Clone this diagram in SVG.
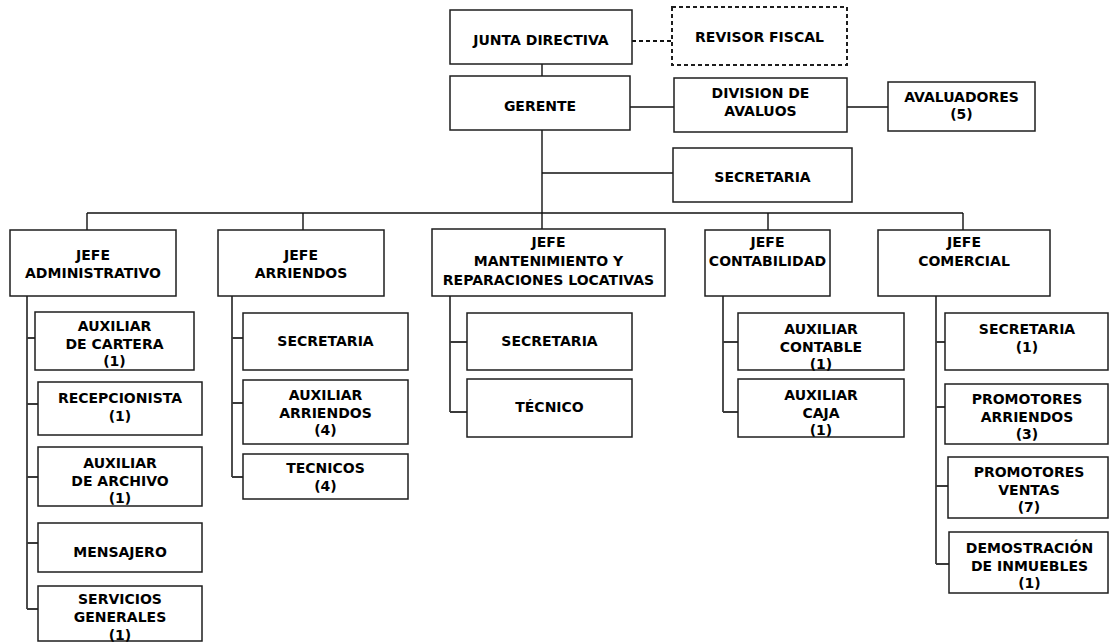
<svg xmlns="http://www.w3.org/2000/svg" width="1109" height="643" viewBox="0 0 1109 643">
  <style>
    .box { fill: #ffffff; stroke: #1e1e1e; stroke-width: 1.5; }
    .dashed { stroke-dasharray: 4 3; stroke-width: 2; }
    .ln { fill: none; stroke: #111111; stroke-width: 1.4; }
    .sub { fill: none; stroke: #3a3a3a; stroke-width: 1.8; }
    .dash { fill: none; stroke: #111111; stroke-width: 2; stroke-dasharray: 4 3; }
    text { font-family: "DejaVu Sans", Verdana, sans-serif; font-weight: bold; font-size: 14px; fill: #000000; text-anchor: middle; }
  </style>

  <!-- connectors -->
  <g id="connectors">
    <path class="dash" d="M632 41 H672"/>
    <path class="ln" d="M542 64 V76"/>
    <path class="ln" d="M630 107 H674"/>
    <path class="ln" d="M847 107 H888"/>
    <path class="ln" d="M542 130 V229"/>
    <path class="ln" d="M542 173 H673"/>
    <path class="ln" d="M87 213 H963"/>
    <path class="ln" d="M87 213 V230"/>
    <path class="ln" d="M303 213 V230"/>
    <path class="ln" d="M768 213 V230"/>
    <path class="ln" d="M963 213 V230"/>
    <!-- administrative branch -->
    <path class="sub" d="M27 296 V609"/>
    <path class="sub" d="M27 338 H35 M27 404 H38 M27 477 H38 M27 543 H38 M27 609 H38"/>
    <!-- leasing branch -->
    <path class="sub" d="M232 296 V477"/>
    <path class="sub" d="M232 338 H243 M232 403 H243 M232 477 H243"/>
    <!-- maintenance branch -->
    <path class="sub" d="M450 296 V412"/>
    <path class="sub" d="M450 342 H467 M450 412 H467"/>
    <!-- accounting branch -->
    <path class="sub" d="M723 296 V412"/>
    <path class="sub" d="M723 342 H738 M723 412 H738"/>
    <!-- commercial branch -->
    <path class="sub" d="M936 296 V564"/>
    <path class="sub" d="M936 342 H945 M936 407 H945 M936 486 H948 M936 564 H949"/>
  </g>

  <g id="junta-directiva">
    <rect class="box" x="450" y="10" width="182" height="54"/>
    <text x="541" y="45">JUNTA DIRECTIVA</text>
  </g>
  <g id="revisor-fiscal">
    <rect class="box dashed" x="672" y="7" width="175" height="58"/>
    <text x="759.5" y="42">REVISOR FISCAL</text>
  </g>
  <g id="gerente">
    <rect class="box" x="450" y="76" width="180" height="54"/>
    <text x="540" y="111">GERENTE</text>
  </g>
  <g id="division-avaluos">
    <rect class="box" x="674" y="78" width="173" height="54"/>
    <text x="760.5" y="98">DIVISION DE</text>
    <text x="760.5" y="116">AVALUOS</text>
  </g>
  <g id="avaluadores">
    <rect class="box" x="888" y="82" width="147" height="49"/>
    <text x="961.5" y="102">AVALUADORES</text>
    <text x="961.5" y="119">(5)</text>
  </g>
  <g id="secretaria-gerencia">
    <rect class="box" x="673" y="148" width="179" height="54"/>
    <text x="762.5" y="182">SECRETARIA</text>
  </g>

  <g id="jefe-administrativo">
    <rect class="box" x="10" y="230" width="166" height="66"/>
    <text x="93" y="260">JEFE</text>
    <text x="93" y="278">ADMINISTRATIVO</text>
  </g>
  <g id="jefe-arriendos">
    <rect class="box" x="218" y="230" width="166" height="66"/>
    <text x="301" y="260">JEFE</text>
    <text x="301" y="278">ARRIENDOS</text>
  </g>
  <g id="jefe-mantenimiento">
    <rect class="box" x="432" y="229" width="233" height="67"/>
    <text x="548.5" y="247">JEFE</text>
    <text x="548.5" y="266">MANTENIMIENTO Y</text>
    <text x="548.5" y="285">REPARACIONES LOCATIVAS</text>
  </g>
  <g id="jefe-contabilidad">
    <rect class="box" x="705" y="230" width="125" height="66"/>
    <text x="767.5" y="247">JEFE</text>
    <text x="767.5" y="266">CONTABILIDAD</text>
  </g>
  <g id="jefe-comercial">
    <rect class="box" x="878" y="230" width="172" height="66"/>
    <text x="964" y="247">JEFE</text>
    <text x="964" y="266">COMERCIAL</text>
  </g>

  <!-- administrative staff -->
  <g id="auxiliar-cartera">
    <rect class="box" x="35" y="312" width="159" height="58"/>
    <text x="114.5" y="331">AUXILIAR</text>
    <text x="114.5" y="349">DE CARTERA</text>
    <text x="114.5" y="366">(1)</text>
  </g>
  <g id="recepcionista">
    <rect class="box" x="38" y="382" width="164" height="53"/>
    <text x="120" y="403">RECEPCIONISTA</text>
    <text x="120" y="421">(1)</text>
  </g>
  <g id="auxiliar-archivo">
    <rect class="box" x="38" y="447" width="164" height="59"/>
    <text x="120" y="468">AUXILIAR</text>
    <text x="120" y="486">DE ARCHIVO</text>
    <text x="120" y="503">(1)</text>
  </g>
  <g id="mensajero">
    <rect class="box" x="38" y="523" width="164" height="49"/>
    <text x="120" y="557">MENSAJERO</text>
  </g>
  <g id="servicios-generales">
    <rect class="box" x="38" y="586" width="164" height="55"/>
    <text x="120" y="604">SERVICIOS</text>
    <text x="120" y="622">GENERALES</text>
    <text x="120" y="640">(1)</text>
  </g>

  <!-- leasing staff -->
  <g id="secretaria-arriendos">
    <rect class="box" x="243" y="313" width="165" height="57"/>
    <text x="325.5" y="346">SECRETARIA</text>
  </g>
  <g id="auxiliar-arriendos">
    <rect class="box" x="243" y="380" width="165" height="64"/>
    <text x="325.5" y="400">AUXILIAR</text>
    <text x="325.5" y="418">ARRIENDOS</text>
    <text x="325.5" y="435">(4)</text>
  </g>
  <g id="tecnicos">
    <rect class="box" x="243" y="454" width="165" height="45"/>
    <text x="325.5" y="473">TECNICOS</text>
    <text x="325.5" y="491">(4)</text>
  </g>

  <!-- maintenance staff -->
  <g id="secretaria-mantenimiento">
    <rect class="box" x="467" y="313" width="165" height="57"/>
    <text x="549.5" y="346">SECRETARIA</text>
  </g>
  <g id="tecnico">
    <rect class="box" x="467" y="379" width="165" height="58"/>
    <text x="549.5" y="412">TÉCNICO</text>
  </g>

  <!-- accounting staff -->
  <g id="auxiliar-contable">
    <rect class="box" x="738" y="313" width="166" height="57"/>
    <text x="821" y="334">AUXILIAR</text>
    <text x="821" y="352">CONTABLE</text>
    <text x="821" y="369">(1)</text>
  </g>
  <g id="auxiliar-caja">
    <rect class="box" x="738" y="379" width="166" height="58"/>
    <text x="821" y="400">AUXILIAR</text>
    <text x="821" y="418">CAJA</text>
    <text x="821" y="435">(1)</text>
  </g>

  <!-- commercial staff -->
  <g id="secretaria-comercial">
    <rect class="box" x="945" y="313" width="163" height="57"/>
    <text x="1027" y="334">SECRETARIA</text>
    <text x="1027" y="352">(1)</text>
  </g>
  <g id="promotores-arriendos">
    <rect class="box" x="945" y="384" width="163" height="60"/>
    <text x="1027" y="404">PROMOTORES</text>
    <text x="1027" y="422">ARRIENDOS</text>
    <text x="1027" y="439">(3)</text>
  </g>
  <g id="promotores-ventas">
    <rect class="box" x="948" y="457" width="160" height="61"/>
    <text x="1029" y="477">PROMOTORES</text>
    <text x="1029" y="495">VENTAS</text>
    <text x="1029" y="512">(7)</text>
  </g>
  <g id="demostracion-inmuebles">
    <rect class="box" x="949" y="532" width="159" height="61"/>
    <text x="1029.5" y="553">DEMOSTRACIÓN</text>
    <text x="1029.5" y="571">DE INMUEBLES</text>
    <text x="1029.5" y="588">(1)</text>
  </g>
</svg>
